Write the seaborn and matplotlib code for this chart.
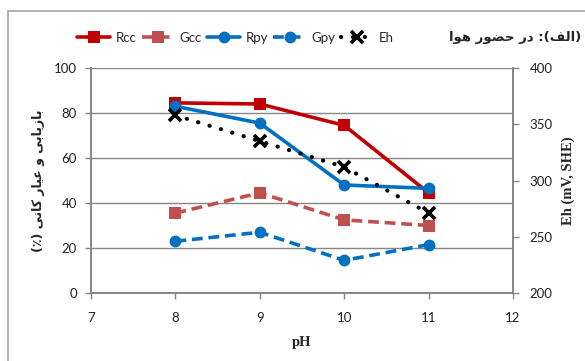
import matplotlib
matplotlib.use("Agg")
import matplotlib.pyplot as plt
from matplotlib.lines import Line2D
import numpy as np
import pandas as pd
import seaborn as sns

# ---- data -------------------------------------------------------------
ph = [8, 9, 10, 11]
rcc = [84.5, 84.0, 74.5, 44.5]
gcc = [35.5, 44.5, 32.5, 30.0]
rpy = [83.0, 75.5, 48.0, 46.5]
gpy = [23.0, 27.0, 14.5, 21.5]
eh = [358, 335, 312, 271]

x_ticks = [7, 8, 9, 10, 11, 12]
y_ticks = [0, 20, 40, 60, 80, 100]
eh_ticks = [200, 250, 300, 350, 400]

title_text = "(الف): در حضور هوا"
left_label = "بازیابی و عیار کانی (٪)"
right_label = "Eh (mV, SHE)"
x_label = "pH"

# ---- minimal Persian shaping (presentation forms + RTL order) ---------
FORMS = {
    "\u0627": ("\uFE8D", "\uFE8E", None, None),
    "\u0628": ("\uFE8F", "\uFE90", "\uFE91", "\uFE92"),
    "\u062D": ("\uFEA1", "\uFEA2", "\uFEA3", "\uFEA4"),
    "\u062F": ("\uFEA9", "\uFEAA", None, None),
    "\u0631": ("\uFEAD", "\uFEAE", None, None),
    "\u0632": ("\uFEAF", "\uFEB0", None, None),
    "\u0636": ("\uFEBD", "\uFEBE", "\uFEBF", "\uFEC0"),
    "\u0639": ("\uFEC9", "\uFECA", "\uFECB", "\uFECC"),
    "\u0641": ("\uFED1", "\uFED2", "\uFED3", "\uFED4"),
    "\u0644": ("\uFEDD", "\uFEDE", "\uFEDF", "\uFEE0"),
    "\u0646": ("\uFEE5", "\uFEE6", "\uFEE7", "\uFEE8"),
    "\u0647": ("\uFEE9", "\uFEEA", "\uFEEB", "\uFEEC"),
    "\u0648": ("\uFEED", "\uFEEE", None, None),
    "\u06A9": ("\uFB8E", "\uFB8F", "\uFB90", "\uFB91"),
    "\u06CC": ("\uFBFC", "\uFBFD", "\uFBFE", "\uFBFF"),
}
MIRROR = {"(": ")", ")": "("}


def dual(ch):
    return ch in FORMS and FORMS[ch][2] is not None


def shape_rtl(text):
    out = []
    for i, ch in enumerate(text):
        if ch not in FORMS:
            out.append(ch)
            continue
        prev = text[i - 1] if i > 0 else ""
        nxt = text[i + 1] if i + 1 < len(text) else ""
        jp = dual(prev)
        jn = dual(ch) and nxt in FORMS
        iso, fin, ini, med = FORMS[ch]
        if jp and jn:
            out.append(med)
        elif jp:
            out.append(fin)
        elif jn:
            out.append(ini)
        else:
            out.append(iso)
    return "".join(MIRROR.get(c, c) for c in reversed(out))


# ---- style ------------------------------------------------------------
sns.set_style("white")
plt.rcParams["font.family"] = ["Lato", "DejaVu Sans"]
GRID = "#868686"

W, H = 585, 361
fig = plt.figure(figsize=(W / 100, H / 100), dpi=100)
ax = fig.add_axes([91 / W, 1 - 293 / H, (513 - 91) / W, (293 - 68) / H])
ax2 = ax.twinx()

df = pd.DataFrame({"pH": ph, "Rcc": rcc, "Gcc": gcc, "Rpy": rpy, "Gpy": gpy, "Eh": eh})

sns.lineplot(data=df, x="pH", y="Rcc", ax=ax, color="#C00000", lw=2.6,
             marker="s", markersize=8, markeredgewidth=0, label="Rcc", zorder=4)
sns.lineplot(data=df, x="pH", y="Gcc", ax=ax, color="#C0504D", lw=2.6,
             linestyle=(0, (3, 1.6)), marker="s", markersize=8,
             markeredgewidth=0, label="Gcc", zorder=4)
sns.lineplot(data=df, x="pH", y="Rpy", ax=ax, color="#0070C0", lw=2.6,
             marker="o", markersize=8.5, markeredgewidth=0, label="Rpy", zorder=5)
sns.lineplot(data=df, x="pH", y="Gpy", ax=ax, color="#0070C0", lw=2.6,
             linestyle=(0, (3, 1.6)), marker="o", markersize=8.5,
             markeredgewidth=0, label="Gpy", zorder=5)
sns.lineplot(data=df, x="pH", y="Eh", ax=ax2, color="black", lw=3.0,
             linestyle=(0, (0.05, 2.8)), dash_capstyle="round",
             marker="x", markersize=8, markeredgewidth=2.6,
             markeredgecolor="black", label="Eh", zorder=6)

# axes ranges and ticks
ax.set_xlim(7, 12)
ax.set_ylim(0, 100)
ax2.set_ylim(200, 400)
ax.set_xticks(x_ticks)
ax.set_yticks(y_ticks)
ax2.set_yticks(eh_ticks)
ax.set_xticklabels([str(v) for v in x_ticks], fontsize=9.5, color="#222222")
ax.set_yticklabels([str(v) for v in y_ticks], fontsize=9.5, color="#222222")
ax2.set_yticklabels([str(v) for v in eh_ticks], fontsize=9.5, color="#222222")

ax.yaxis.grid(True, color=GRID, lw=1.0)
ax.set_axisbelow(True)
for a in (ax, ax2):
    for s in a.spines.values():
        s.set_visible(False)
ax.spines["left"].set_visible(True)
ax.spines["bottom"].set_visible(True)
ax2.spines["right"].set_visible(True)
for s in (ax.spines["left"], ax.spines["bottom"], ax2.spines["right"]):
    s.set_color(GRID)
    s.set_linewidth(1.4)

ax.tick_params(axis="x", direction="out", length=4, width=1, color=GRID, pad=10,
               bottom=True)
ax.tick_params(axis="y", direction="out", length=4, width=1, color=GRID, pad=6,
               left=True)
ax2.tick_params(axis="y", direction="out", length=4, width=1, color=GRID, pad=8,
                right=True)

ax.set_xlabel(x_label, fontsize=10.5, fontweight="bold",
              family=["Liberation Serif"], labelpad=8)
ax.set_ylabel(shape_rtl(left_label), fontsize=9, fontweight="bold",
              family=["DejaVu Sans"])
ax.yaxis.set_label_coords(-(91 - 45) / (513 - 91), 0.5)
ax2.set_ylabel(right_label, fontsize=10.5, fontweight="bold",
               family=["Liberation Serif"], labelpad=6)

# legend across the top
h1, l1 = ax.get_legend_handles_labels()
h2, l2 = ax2.get_legend_handles_labels()
if ax.legend_:
    ax.legend_.remove()
if ax2.legend_:
    ax2.legend_.remove()
fig.legend(h1 + h2, l1 + l2, loc="center left",
           bbox_to_anchor=(72 / W, 1 - 38 / H), ncol=5, frameon=False,
           fontsize=9.5, handlelength=2.5, handletextpad=0.4,
           columnspacing=0.4, borderaxespad=0)
fig.text(581 / W, 1 - 38 / H, shape_rtl(title_text), ha="right", va="center",
         fontsize=9.5, fontweight="bold", family=["DejaVu Sans"])

# chart frame
fig.add_artist(Line2D([8 / W, 8 / W], [0, 1 - 11 / H], color="#A6A6A6", lw=1.2,
                      transform=fig.transFigure))
fig.add_artist(Line2D([8 / W, 1], [1 - 11 / H, 1 - 11 / H], color="#A6A6A6",
                      lw=1.2, transform=fig.transFigure))

fig.savefig("out.png", dpi=100)
